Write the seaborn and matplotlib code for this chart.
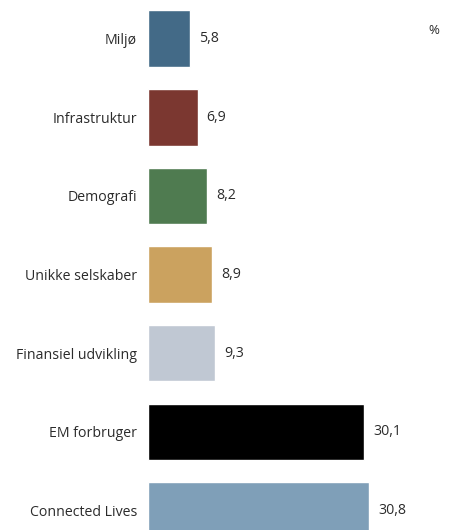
import matplotlib
matplotlib.use("Agg")
import matplotlib.pyplot as plt
import seaborn as sns
import pandas as pd

categories = ["Miljø", "Infrastruktur", "Demografi", "Unikke selskaber",
              "Finansiel udvikling", "EM forbruger", "Connected Lives"]
values = [5.8, 6.9, 8.2, 8.9, 9.3, 30.1, 30.8]
value_labels = ["5,8", "6,9", "8,2", "8,9", "9,3", "30,1", "30,8"]
colors = ["#436a87", "#7b3730", "#4f7b50", "#cba25f", "#c0c8d3", "#000000", "#7f9fb8"]

sns.set_theme(style="white")
plt.rcParams["font.family"] = ["Open Sans", "DejaVu Sans"]

df = pd.DataFrame({"kategori": categories, "værdi": values})

fig = plt.figure(figsize=(4.52, 5.30), dpi=100)
ax = fig.add_axes([148 / 452, 0, 304 / 452, 1])

sns.barplot(data=df, x="værdi", y="kategori", hue="kategori",
            palette=colors, legend=False, width=0.72, saturation=1,
            ax=ax, order=categories)

for cont, lab in zip(ax.containers, value_labels):
    ax.bar_label(cont, labels=[lab], padding=6.5, fontsize=10.2, color="#2b2b2b")

ax.set_xlim(0, 42.3)
ax.set_ylim(6.248, -0.49)
ax.set_xlabel("")
ax.set_ylabel("")
ax.set_xticks([])
ax.tick_params(axis="y", length=0, pad=8, labelsize=10.2, labelcolor="#2b2b2b")
sns.despine(ax=ax, left=True, bottom=True)

fig.text(434 / 452, 1 - 30 / 530, "%", ha="center", va="center",
         fontsize=9.5, color="#2b2b2b")

fig.savefig("out.png", dpi=100)
